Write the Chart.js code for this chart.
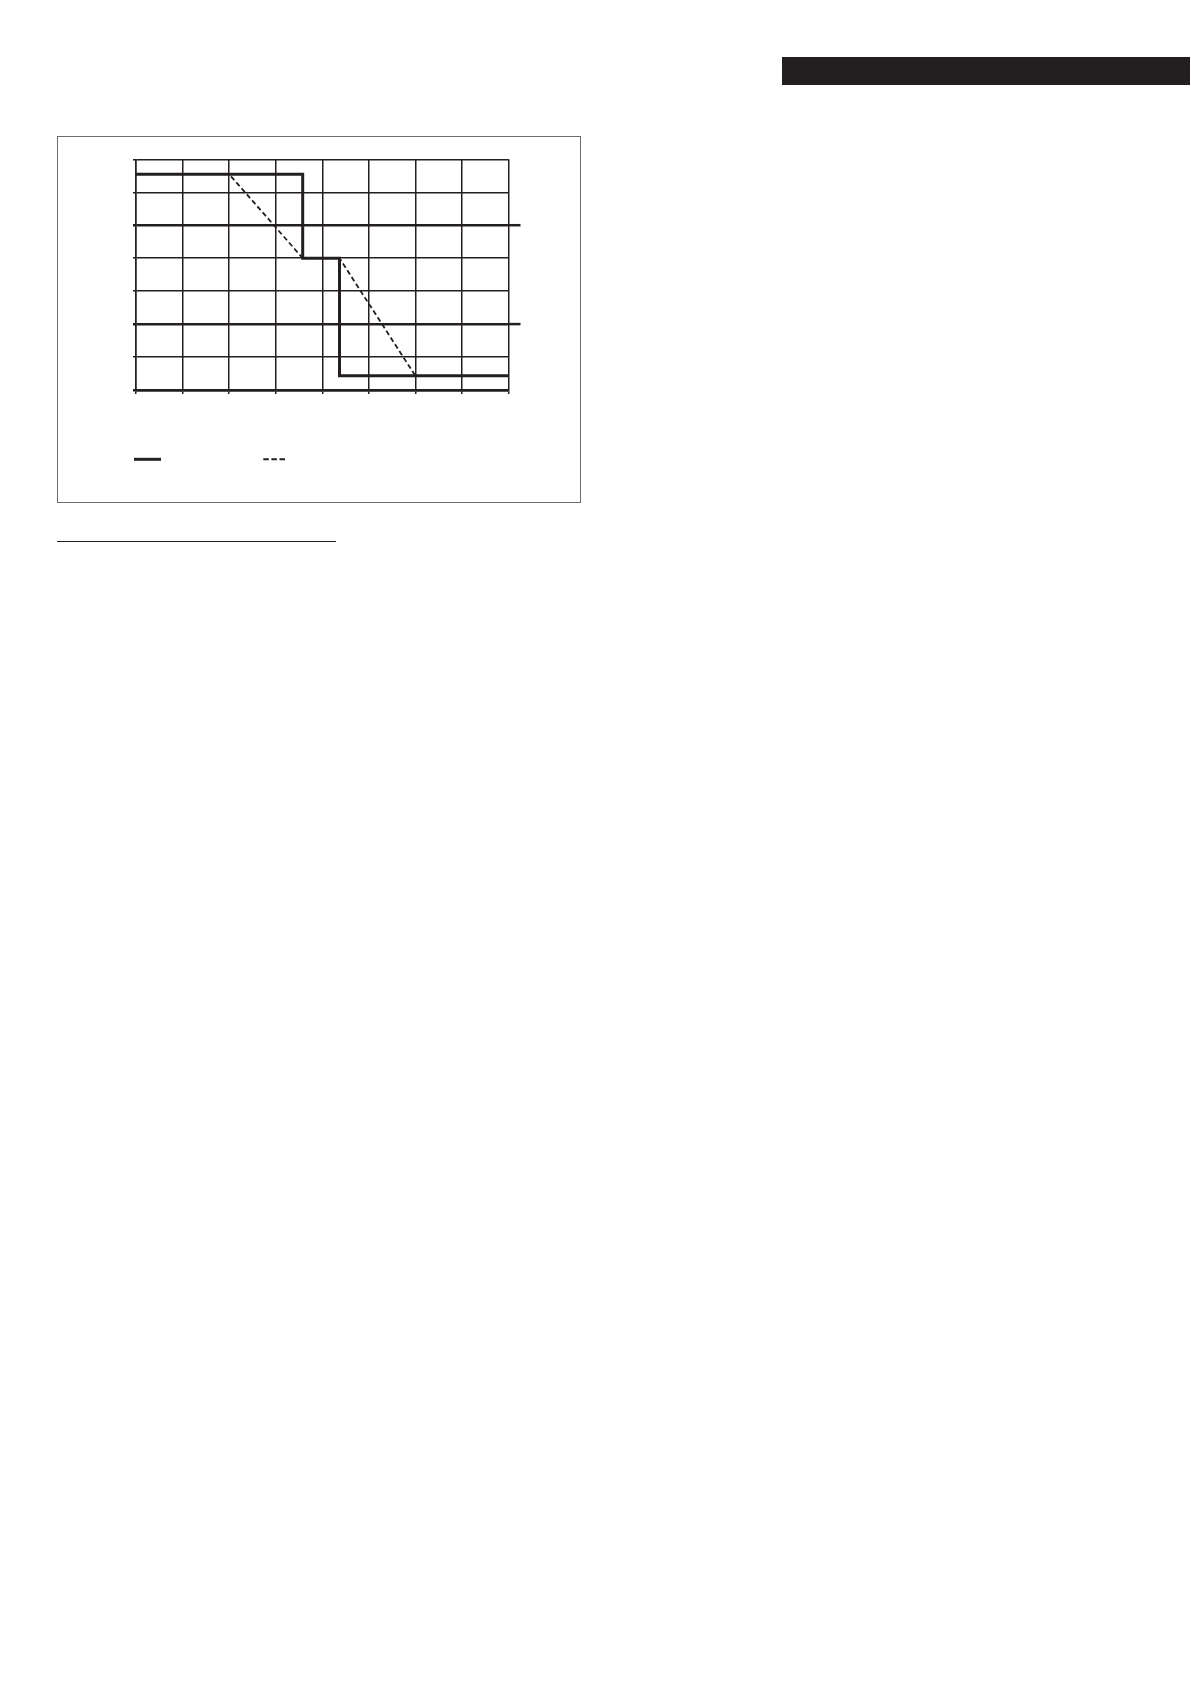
<!DOCTYPE html>
<html>
<head>
<meta charset="utf-8">
<script src="https://cdn.jsdelivr.net/npm/chart.js@4/dist/chart.umd.min.js"></script>
<style>
  html, body { margin: 0; padding: 0; background: #fff; }
  body { width: 1191px; height: 1684px; position: relative; font-family: 'Liberation Sans', Arial, sans-serif; }
  .bar { position: absolute; left: 782px; top: 57px; width: 408px; height: 28px; background: #231f20; }
  .frame { position: absolute; left: 57px; top: 136px; width: 524px; height: 367px; border: 1.5px solid #6d6d6d; box-sizing: border-box; }
  .wrap { position: absolute; left: 57px; top: 136px; width: 524px; height: 367px; }
  .rule { position: absolute; left: 57px; top: 541px; width: 279px; height: 0; border-top: 1.6px solid #231f20; }
</style>
</head>
<body>
<div class="bar"></div>
<div class="frame"></div>
<div class="wrap"><canvas id="stepChart"></canvas></div>
<div class="rule"></div>

<script>
// Series (grid units)
const stepX = [0, 3.58, 3.58, 4.37, 4.37, 8];
const stepY = [6.55, 6.55, 4.0, 4.0, 0.43, 0.43];
const rampX = [0, 2, 3.58, 4.37, 6, 8];
const rampY = [6.55, 6.55, 4.0, 4.0, 0.43, 0.43];

// Axis ranges / tick positions
const xTicks = [0, 1, 2, 3, 4, 5, 6, 7, 8];
const yTicks = [0, 1, 2, 3, 4, 5, 6, 7];
const heavyY = [0, 2, 5];
const extendedY = [2, 5];

const ink = '#231f20';

function toPoints(xs, ys) {
  return xs.map((x, i) => ({ x: x, y: ys[i] }));
}

// Extends the heavy gridlines past the plot and draws the legend samples
const extrasPlugin = {
  id: 'extras',
  afterDraw(chart) {
    const { ctx, chartArea, scales } = chart;
    ctx.save();
    ctx.strokeStyle = ink;
    ctx.lineWidth = 2.5;
    extendedY.forEach(v => {
      const y = scales.y.getPixelForValue(v);
      ctx.beginPath();
      ctx.moveTo(chartArea.right, y);
      ctx.lineTo(chartArea.right + 12, y);
      ctx.stroke();
    });

    // legend samples (no text in the original)
    const legendY = 323.3;
    const slots = [[77, 104], [206.3, 228]];
    const widths = [3, 2];
    const dashes = [[], [5.5, 2.6]];
    const order = [1, 0];
    order.forEach((dsIndex, i) => {
      const ds = chart.data.datasets[dsIndex];
      ctx.beginPath();
      ctx.lineWidth = widths[i];
      ctx.strokeStyle = ds.borderColor;
      ctx.setLineDash(dashes[i]);
      ctx.moveTo(slots[i][0], legendY);
      ctx.lineTo(slots[i][1], legendY);
      ctx.stroke();
    });
    ctx.restore();
  }
};

const ctx = document.getElementById('stepChart').getContext('2d');
new Chart(ctx, {
  type: 'scatter',
  data: {
    datasets: [
      {
        label: 'ramp',
        data: toPoints(rampX, rampY),
        showLine: true,
        borderColor: ink,
        borderWidth: 1.8,
        borderDash: [5, 3],
        pointRadius: 0,
        order: 2
      },
      {
        label: 'step',
        data: toPoints(stepX, stepY),
        showLine: true,
        borderColor: ink,
        borderWidth: 3,
        borderJoinStyle: 'miter',
        pointRadius: 0,
        order: 1
      }
    ]
  },
  options: {
    responsive: true,
    maintainAspectRatio: false,
    animation: false,
    layout: {
      padding: { left: 76, right: 72.5, top: 23.3, bottom: 109 }
    },
    plugins: {
      legend: { display: false },
      tooltip: { enabled: false }
    },
    scales: {
      x: {
        type: 'linear',
        min: 0,
        max: 8,
        afterBuildTicks: axis => { axis.ticks = xTicks.map(v => ({ value: v })); },
        ticks: { display: false },
        grid: {
          color: ink,
          lineWidth: 1.5,
          tickLength: 4
        },
        border: { color: ink, width: 2.5 }
      },
      y: {
        type: 'linear',
        min: 0,
        max: 7,
        afterBuildTicks: axis => { axis.ticks = yTicks.map(v => ({ value: v })); },
        ticks: { display: false },
        grid: {
          color: ink,
          lineWidth: c => (c.tick && heavyY.includes(c.tick.value)) ? 2.5 : 1.4,
          tickLength: 3
        },
        border: { color: ink, width: 1.5 }
      }
    }
  },
  plugins: [extrasPlugin]
});
</script>
</body>
</html>
